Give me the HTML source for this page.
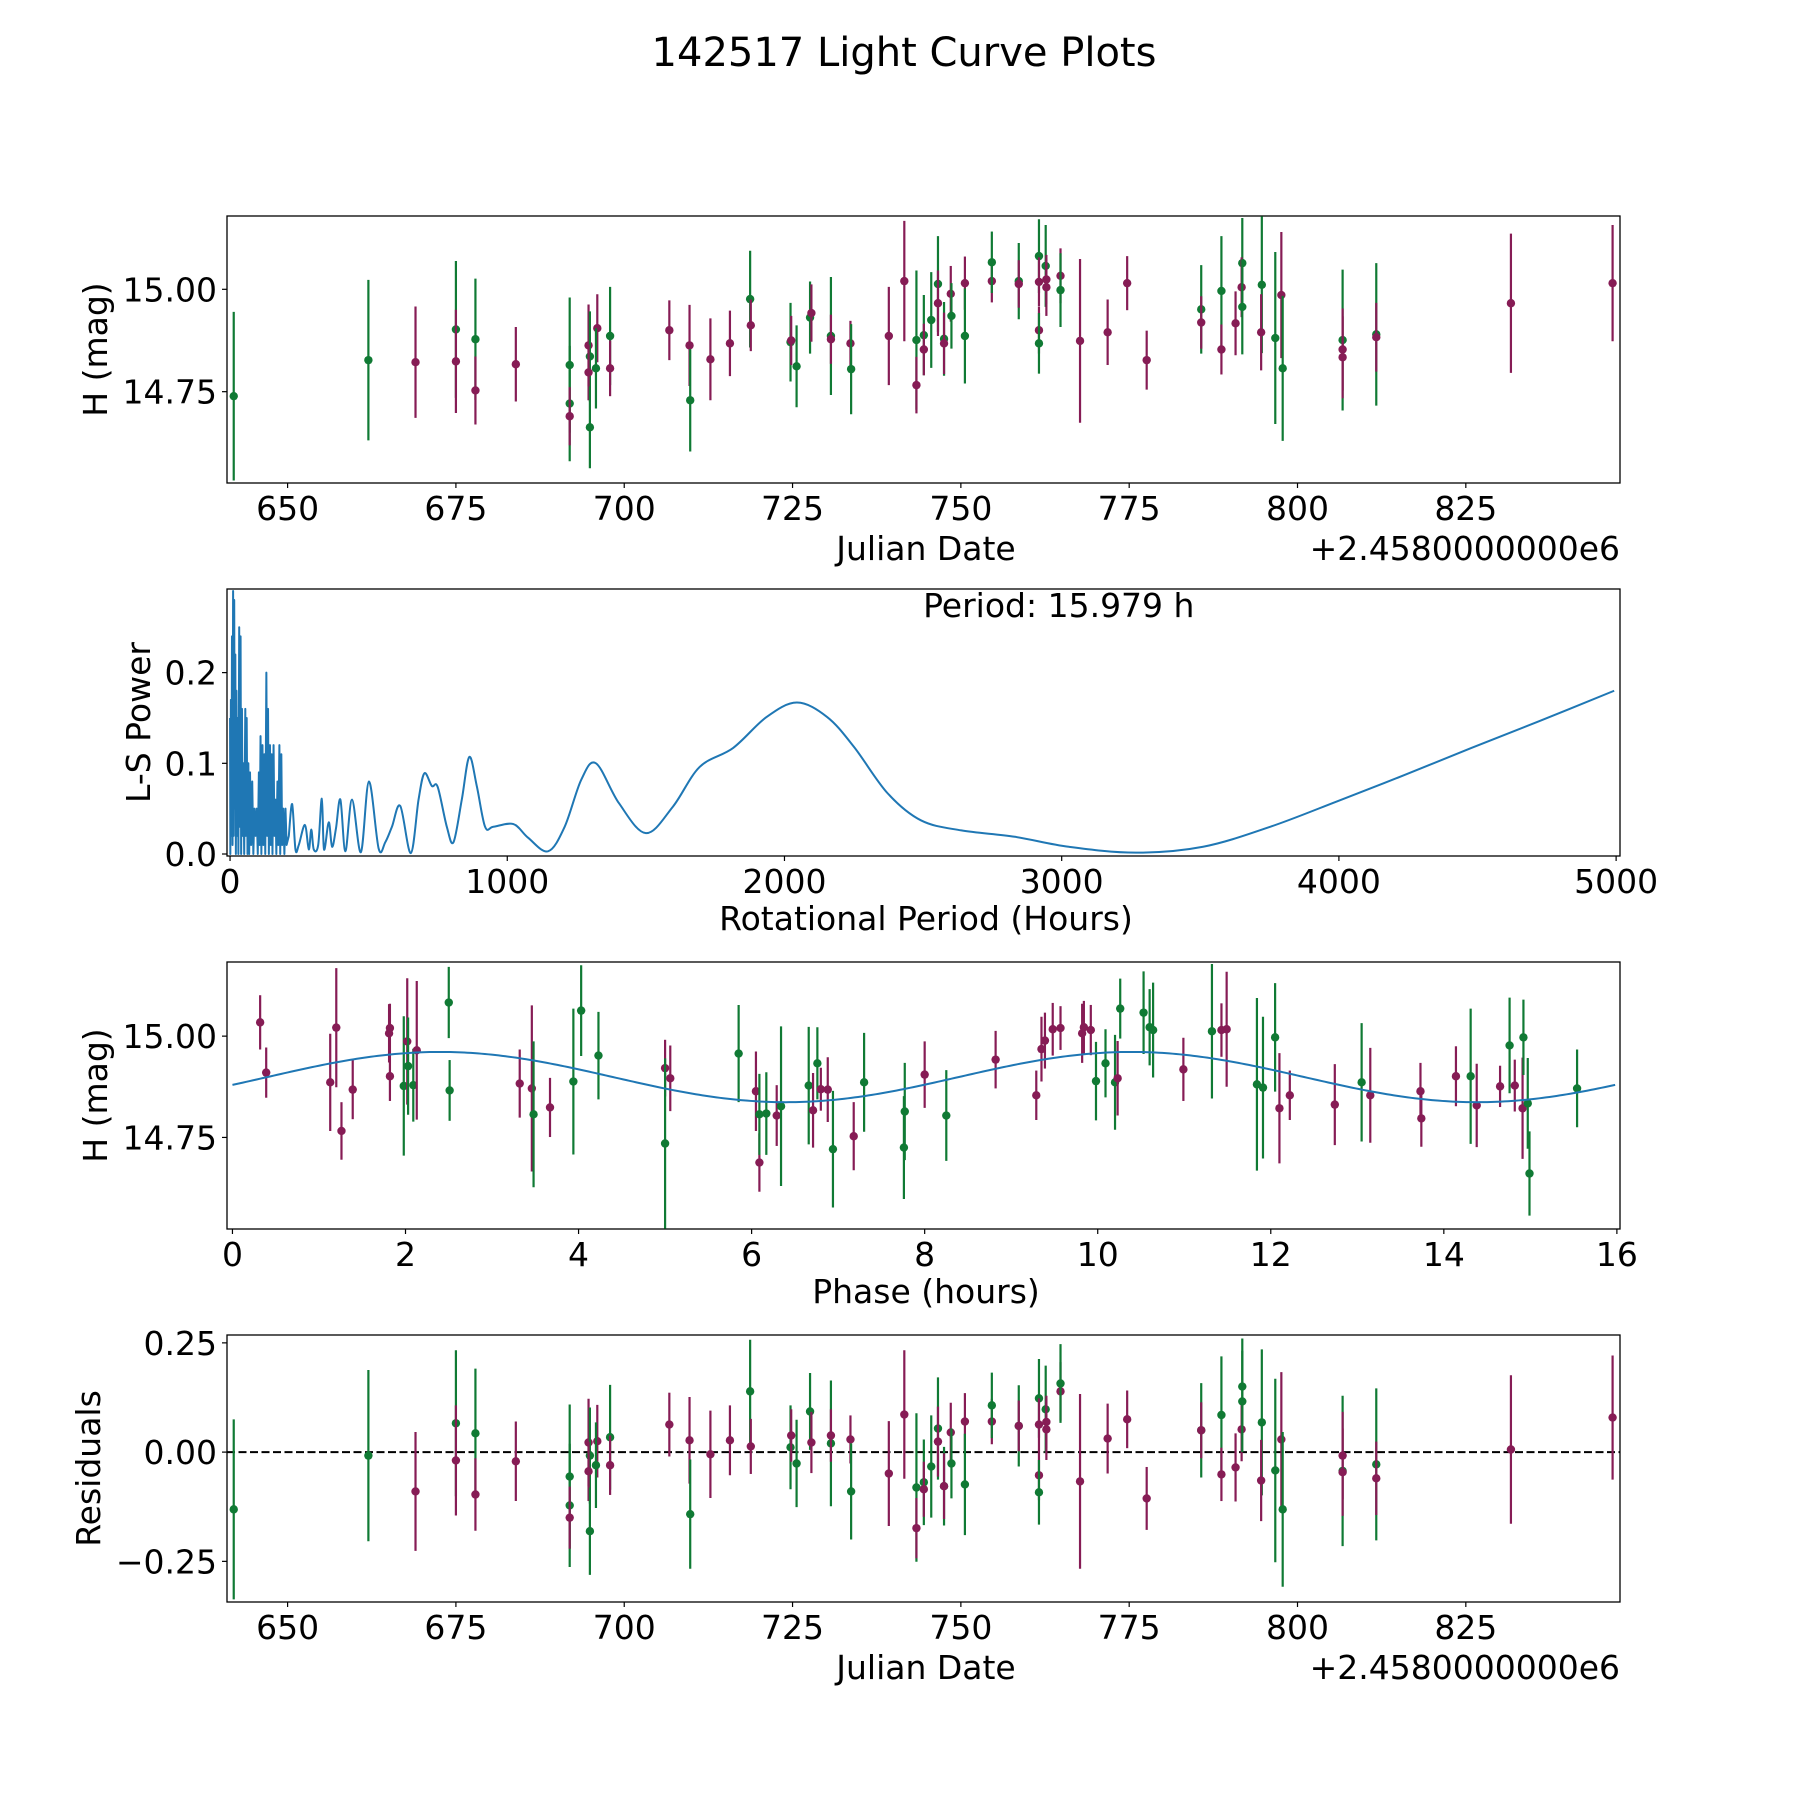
<!DOCTYPE html>
<html><head><meta charset="utf-8"><title>142517 Light Curve Plots</title>
<style>html,body{margin:0;padding:0;background:#fff}svg{display:block;font-family:"DejaVu Sans","Liberation Sans",sans-serif}</style>
</head><body>
<svg id="fig" width="1800" height="1800" viewBox="0 0 1800 1800" xmlns="http://www.w3.org/2000/svg">
<rect width="1800" height="1800" fill="#fff"/>
<text x="904" y="66" font-size="40" text-anchor="middle">142517 Light Curve Plots</text>
</svg>
<script>
// ---- Panel 1 / 4 data (Julian date offset, magnitude, error, band) ----
const dates=[642.0,662.0,669.0,675.0,675.0,677.9,677.9,683.9,691.9,691.9,691.9,694.7,694.9,694.7,694.9,696.0,695.8,697.9,697.9,706.7,709.7,709.8,712.8,715.7,718.7,718.8,724.7,724.8,725.6,727.6,727.8,730.7,730.7,733.6,733.7,739.3,
741.6,743.4,743.4,744.5,744.5,745.6,746.6,746.6,747.5,747.5,748.5,748.6,750.6,750.6,754.6,754.6,758.6,758.6,761.6,761.6,761.6,761.6,762.6,762.7,762.7,764.8,764.8,767.7,771.8,774.7,777.6,785.7,785.7,788.7,788.7,790.8,791.8,791.7,791.8,794.7,794.6,796.7,797.6,797.8,806.7,806.7,806.7,811.7,811.7,831.7,846.8];
const mags=[14.739,14.827,14.822,14.902,14.824,14.878,14.753,14.817,14.815,14.721,14.690,14.863,14.836,14.797,14.663,14.905,14.807,14.886,14.807,14.900,14.863,14.729,14.829,14.868,14.976,14.912,14.871,14.875,14.812,14.931,14.942,14.886,14.878,14.868,14.805,14.886,
15.020,14.876,14.766,14.888,14.853,14.925,15.013,14.966,14.879,14.868,14.989,14.935,15.015,14.886,15.020,15.066,15.020,15.013,15.081,15.018,14.900,14.868,15.057,15.024,15.005,15.033,14.998,14.874,14.895,15.015,14.827,14.951,14.919,14.996,14.853,14.917,15.064,15.005,14.957,15.011,14.895,14.881,14.986,14.807,14.876,14.853,14.834,14.890,14.883,14.966,15.015];
const errs=[.206,.196,.136,.167,.126,.148,.083,.091,.165,.141,.071,.10,.11,.068,.10,.083,.098,.12,.068,.073,.099,.125,.10,.08,.118,.063,.096,.06,.10,.088,.07,.144,.06,.055,.11,.12,
.147,.17,.069,.098,.063,.117,.117,.08,.09,.075,.068,.08,.065,.116,.052,.075,.093,.058,.09,.06,.057,.074,.1,.06,.07,.067,.09,.2,.08,.066,.072,.108,.064,.134,.061,.078,.11,.073,.116,.167,.093,.21,.154,.177,.172,.1,.1,.174,.084,.17,.142];
const bands="ggmgmgmmggmmgmgmggmmmgmmgmgmggmgmmgm"+"mgmgmggmgmmgmgmggmgmmggmmmgmmmmgmgmmgmggmgmggmmgmmm";
const resid=[-0.131,-0.008,-0.090,0.066,-0.019,0.043,-0.097,-0.021,-0.056,-0.122,-0.150,0.022,-0.008,-0.044,-0.181,0.025,-0.030,0.034,-0.030,0.063,0.027,-0.142,-0.005,0.027,0.139,0.013,0.011,0.038,-0.026,0.093,0.022,0.020,0.038,0.029,-0.090,-0.049,
0.086,-0.081,-0.174,-0.069,-0.085,-0.033,0.054,0.024,-0.078,-0.078,0.045,-0.026,0.070,-0.074,0.070,0.107,0.060,0.060,0.123,0.063,-0.053,-0.092,0.098,0.069,0.052,0.139,0.157,-0.067,0.031,0.075,-0.106,0.050,0.050,0.085,-0.051,-0.035,0.150,0.052,0.116,0.068,-0.065,-0.042,0.029,-0.131,-0.043,-0.008,-0.046,-0.028,-0.060,0.006,0.079];
// ---- Phase panel data ----
const phases=[0.32,0.39,1.13,1.20,1.26,1.39,1.81,1.82,1.82,1.98,2.02,2.03,2.09,2.13,2.50,2.51,3.32,3.46,3.48,3.67,3.94,4.03,4.23,5.0,5.0,5.06,5.85,6.05,6.09,6.09,6.17,6.29,6.34,6.66,6.71,6.76,6.80,6.88,6.94,7.18,7.30,7.77,7.76,8.0,
8.25,8.82,9.29,9.35,9.39,9.48,9.57,9.82,9.84,9.92,9.98,10.09,10.20,10.23,10.26,10.53,10.60,10.64,10.99,11.32,11.43,11.49,11.84,11.91,12.05,12.10,12.22,12.74,13.05,13.15,13.73,13.74,14.14,14.31,14.38,14.65,14.76,14.82,14.91,14.92,14.97,14.99,15.54];
const phaseMags=[15.034,14.910,14.886,15.021,14.766,14.868,15.007,15.020,14.901,14.877,14.987,14.926,14.879,14.965,15.083,14.866,14.883,14.871,14.807,14.824,14.888,15.063,14.952,14.921,14.735,14.896,14.957,14.864,14.688,14.807,14.809,14.804,14.827,14.878,14.817,14.933,14.869,14.868,14.721,14.753,14.886,14.814,14.725,14.905,
14.804,14.942,14.854,14.968,14.989,15.017,15.020,15.007,15.022,15.015,14.889,14.933,14.886,14.896,15.068,15.058,15.022,15.015,14.918,15.012,15.015,15.017,14.881,14.873,14.997,14.822,14.854,14.831,14.886,14.854,14.864,14.797,14.901,14.901,14.829,14.876,14.977,14.878,14.822,14.997,14.834,14.661,14.871];
const phaseErrs=[.067,.062,.12,.147,.071,.073,.072,.06,.061,.172,.156,.12,.09,.171,.088,.075,.084,.205,.18,.073,.18,.112,.108,.07,.21,.081,.12,.098,.072,.1,.102,.075,.197,.145,.092,.089,.053,.08,.144,.084,.122,.12,.127,.082,
.112,.071,.061,.08,.069,.065,.054,.073,.065,.062,.097,.084,.117,.092,.074,.102,.094,.117,.078,.166,.066,.142,.213,.175,.134,.136,.061,.1,.146,.117,.07,.07,.074,.167,.103,.051,.118,.064,.125,.093,.112,.104,.096];
const phaseBands="mmmmmmmmmgmggmggmmgmgggmgmgmmggmggmgmmgmgggm"+"g"+"mmmmmmmmm"+"gggm"+"ggggm"+"gmmggg"+"mmmg"+"mmmmg"+"mmgmm"+"gggg";
const fitMean=14.899, fitAmp=0.062, fitPeakPhase=2.4, fitHalfPeriod=7.99;
// ---- Lomb-Scargle periodogram ----
const lsNoisyPeriods=[0,1,3,5,7,9,11,13,15,17,19,21,23,25,28,30,33,35,38,40,43,45,48,51,55,57,60,63,66,69,72,76,80,84,88,92,96,100,104,107,110,113,117,120,124,127,131,134,137,140,144,147,150,153,157,160,164,167,171,174,178,181,185,188,192,196,200,204,212];
const lsNoisyPower=[0.15,0,0.17,0.02,0.24,0.01,0.29,0.02,0.28,0.05,0.22,0.0,0.18,0.02,0.15,0.0,0.25,0.03,0.24,0.0,0.16,0.02,0.10,0.0,0.16,0.02,0.15,0.0,0.10,0.0,0.09,0.01,0.08,0.0,0.05,0.02,0.05,0.0,0.09,0.01,0.13,0.0,0.12,0.01,0.11,0.0,0.20,0.02,0.16,0.0,0.12,0.01,0.11,0.0,0.12,0.02,0.06,0.0,0.08,0.01,0.12,0.0,0.11,0.01,0.05,0.0,0.05,0.01,0.02];
const lsSmoothPeriods=[212,224,236,248,270,284,293,302,318,331,339,356,368,382,398,416,440,472,501,536,560,584,614,652,680,701,728,749,782,806,836,863,890,920,950,1022,1075,1147,1207,1267,1320,1403,1500,1597,1694,1815,1935,2045,2154,2251,2372,2493,2638,2831,3025,3267,3510,3752,3993,4236,4478,4719,4993];
const lsSmoothPower=[0.02,0.055,0.005,0.01,0.032,0.005,0.027,0.005,0.01,0.061,0.005,0.035,0.008,0.028,0.06,0.003,0.06,0.002,0.08,0.006,0.013,0.03,0.053,0.001,0.06,0.089,0.075,0.074,0.03,0.013,0.06,0.107,0.075,0.03,0.03,0.033,0.018,0.003,0.03,0.082,0.1,0.056,0.023,0.052,0.096,0.117,0.151,0.167,0.151,0.118,0.067,0.037,0.026,0.019,0.008,0.0015,0.008,0.030,0.058,0.087,0.117,0.146,0.180];
const bestPeriod="15.979";

const NS="http://www.w3.org/2000/svg";
const svg=document.getElementById('fig');
const COL={m:"#861c55",g:"#107a34"};
const FS=33;
function mk(tag,attrs,parent){const e=document.createElementNS(NS,tag);for(const k in attrs)e.setAttribute(k,attrs[k]);(parent||svg).appendChild(e);return e;}
function scale(d0,d1,r0,r1){return v=>r0+(v-d0)*(r1-r0)/(d1-d0);}

function axesFrame(name,L,T,R,B){
  const g=mk('g',{});
  
  
  const r=mk('rect',{x:L,y:T,width:R-L,height:B-T,fill:'none',stroke:'#000','stroke-width':1.3},g);
  
  
  return g;
}
function xTicks(g,name,vals,labels,sx,B){
  vals.forEach((v,i)=>{
    const x=sx(v);
    const t=mk('line',{x1:x,x2:x,y1:B,y2:B+5,stroke:'#000','stroke-width':1.2},g);
    
    
    const tx=mk('text',{x:x,y:B+37,'font-size':FS,'text-anchor':'middle'},g);
    tx.textContent=labels[i];
    
    
  });
}
function yTicks(g,name,vals,labels,sy,L){
  vals.forEach((v,i)=>{
    const y=sy(v);
    const t=mk('line',{x1:L-5,x2:L,y1:y,y2:y,stroke:'#000','stroke-width':1.2},g);
    
    
    const tx=mk('text',{x:L-10,y:y+12,'font-size':FS,'text-anchor':'end'},g);
    tx.textContent=labels[i];
    
    
  });
}
function label(g,name,txt,x,y,rot,anchor){
  const t=mk('text',{x:x,y:y,'font-size':FS,'text-anchor':anchor||'middle'},g);
  if(rot)t.setAttribute('transform','rotate(-90 '+x+' '+y+')');
  t.textContent=txt;
  
  
}
function errPoints(g,name,xs,ys,es,bs,sx,sy,L,R,T,B){
  const cp=mk('clipPath',{id:'clip-'+name});
  mk('rect',{x:L,y:T,width:R-L,height:B-T},cp);
  const gg=mk('g',{'clip-path':'url(#clip-'+name+')'},g);
  xs.forEach((xv,i)=>{
    const c=COL[bs[i]]||COL.m;
    const x=sx(xv);
    const l=mk('line',{x1:x,x2:x,y1:sy(ys[i]-es[i]),y2:sy(ys[i]+es[i]),stroke:c,'stroke-width':2.2},gg);
    
    
    const p=mk('circle',{cx:x,cy:sy(ys[i]),r:4.2,fill:c},gg);
    
    
  });
}
const L=227,R=1620;
const dateTicks=[650,675,700,725,750,775,800,825];
const dateTickLabels=["650","675","700","725","750","775","800","825"];

// Panel 1
(function(){
  const T=216,B=483;
  const sx=scale(641.0,847.9,L,R), sy=scale(14.527,15.179,B,T);
  const g=axesFrame('light-curve-axes',L,T,R,B);
  errPoints(g,'light-curve',dates,mags,errs,bands,sx,sy,L,R,T,B);
  xTicks(g,'x-axis',dateTicks,dateTickLabels,sx,B);
  yTicks(g,'y-axis',[14.75,15.0],["14.75","15.00"],sy,L);
  label(g,'x-axis-title','Julian Date',926,B+77);
  label(g,'x-axis-offset','+2.4580000000e6',R,B+77,false,'end');
  label(g,'y-axis-title','H (mag)',107,(T+B)/2,true);
})();

// Panel 2
(function(){
  const T=589,B=856;
  const sx=scale(-11,5014,L,R), sy=scale(-0.0022,0.2922,B,T);
  const g=axesFrame('periodogram-axes',L,T,R,B);
  const cp=mk('clipPath',{id:'clip-ls'});
  mk('rect',{x:L,y:T,width:R-L,height:B-T},cp);
  let d='';
  lsNoisyPeriods.forEach((p,i)=>{d+=(i?'L':'M')+sx(p).toFixed(2)+','+sy(lsNoisyPower[i]).toFixed(2);});
  const P=lsSmoothPeriods.map((p,i)=>[sx(p),sy(lsSmoothPower[i])]);
  for(let i=0;i<P.length-1;i++){
    const p0=P[Math.max(0,i-1)],p1=P[i],p2=P[i+1],p3=P[Math.min(P.length-1,i+2)];
    const c1=[p1[0]+(p2[0]-p0[0])/6,p1[1]+(p2[1]-p0[1])/6];
    const c2=[p2[0]-(p3[0]-p1[0])/6,p2[1]-(p3[1]-p1[1])/6];
    if(i===0)d+='L'+p1[0].toFixed(2)+','+p1[1].toFixed(2);
    d+='C'+c1[0].toFixed(2)+','+c1[1].toFixed(2)+' '+c2[0].toFixed(2)+','+c2[1].toFixed(2)+' '+p2[0].toFixed(2)+','+p2[1].toFixed(2);
  }
  const path=mk('path',{d:d,fill:'none',stroke:'#1f77b4','stroke-width':2,'stroke-linejoin':'round','clip-path':'url(#clip-ls)'},g);
  
  
  xTicks(g,'x-axis',[0,1000,2000,3000,4000,5000],["0","1000","2000","3000","4000","5000"],sx,B);
  yTicks(g,'y-axis',[0,0.1,0.2],["0.0","0.1","0.2"],sy,L);
  label(g,'x-axis-title','Rotational Period (Hours)',926,B+74);
  label(g,'y-axis-title','L-S Power',150,(T+B)/2,true);
  label(g,'period-annotation','Period: '+bestPeriod+' h',sx(2500),617,false,'start');
})();

// Panel 3
(function(){
  const T=962,B=1229;
  const sx=scale(-0.063,16.036,L,R), sy=scale(14.524,15.183,B,T);
  const g=axesFrame('phase-axes',L,T,R,B);
  errPoints(g,'phase',phases,phaseMags,phaseErrs,phaseBands,sx,sy,L,R,T,B);
  let d='';
  for(let i=0;i<=400;i++){const t=15.98*i/400;const m=fitMean+fitAmp*Math.cos(2*Math.PI*(t-fitPeakPhase)/fitHalfPeriod);d+=(i?'L':'M')+sx(t).toFixed(2)+','+sy(m).toFixed(2);}
  const fit=mk('path',{d:d,fill:'none',stroke:'#1f77b4','stroke-width':2},g);
  
  
  xTicks(g,'x-axis',[0,2,4,6,8,10,12,14,16],["0","2","4","6","8","10","12","14","16"],sx,B);
  yTicks(g,'y-axis',[14.75,15.0],["14.75","15.00"],sy,L);
  label(g,'x-axis-title','Phase (hours)',926,B+74);
  label(g,'y-axis-title','H (mag)',107,(T+B)/2,true);
})();

// Panel 4
(function(){
  const T=1335,B=1602;
  const sx=scale(641.0,847.9,L,R), sy=scale(-0.343,0.268,B,T);
  const g=axesFrame('residuals-axes',L,T,R,B);
  const zl=mk('line',{x1:L,x2:R,y1:sy(0),y2:sy(0),stroke:'#000','stroke-width':2,'stroke-dasharray':'8,3.5'},g);
  
  
  errPoints(g,'residual',dates,resid,errs,bands,sx,sy,L,R,T,B);
  xTicks(g,'x-axis',dateTicks,dateTickLabels,sx,B);
  yTicks(g,'y-axis',[-0.25,0,0.25],["\u22120.25","0.00","0.25"],sy,L);
  label(g,'x-axis-title','Julian Date',926,B+77);
  label(g,'x-axis-offset','+2.4580000000e6',R,B+77,false,'end');
  label(g,'y-axis-title','Residuals',100,(T+B)/2,true);
})();
</script>
</body></html>
